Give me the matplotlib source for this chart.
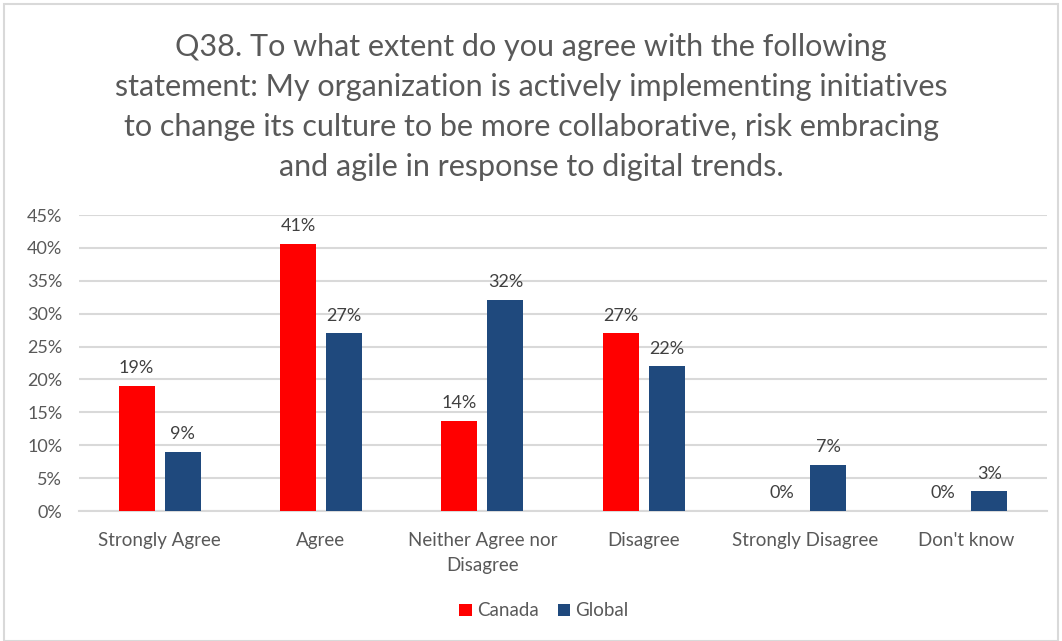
import matplotlib
matplotlib.use("Agg")
import matplotlib.pyplot as plt
from matplotlib.patches import Rectangle
import numpy as np

categories = ["Strongly Agree", "Agree", "Neither Agree nor\nDisagree",
              "Disagree", "Strongly Disagree", "Don't know"]
canada = [19.0, 40.6, 13.7, 27.0, 0.0, 0.0]
global_ = [9.0, 27.0, 32.1, 22.0, 7.0, 3.0]
yticks = [0, 5, 10, 15, 20, 25, 30, 35, 40, 45]
title = ("Q38. To what extent do you agree with the following\n"
         "statement: My organization is actively implementing initiatives\n"
         "to change its culture to be more collaborative, risk embracing\n"
         "and agile in response to digital trends.")

RED = "#ff0000"
BLUE = "#1f497d"
TEXT = "#595959"
LABEL = "#404040"
GRID = "#d9d9d9"

plt.rcParams["font.family"] = ["Lato", "DejaVu Sans"]

W, H = 1062, 641
fig = plt.figure(figsize=(W / 100, H / 100), dpi=100)
fig.patch.set_facecolor("white")
fig.add_artist(Rectangle((4 / W, 0), 1 - 8 / W, 1 - 4 / H, transform=fig.transFigure,
                         fill=False, edgecolor="#d9d9d9", linewidth=1.5))

ax = fig.add_axes([79 / W, 1 - 511 / H, (1047 - 79) / W, (511 - 215) / H])
x = np.arange(len(categories))
bw = 0.224
off = 0.143
b1 = ax.bar(x - off, canada, bw, color=RED, label="Canada", zorder=3)
b2 = ax.bar(x + off, global_, bw, color=BLUE, label="Global", zorder=3)

for bars, vals in ((b1, canada), (b2, global_)):
    for rect, v in zip(bars, vals):
        ax.annotate(f"{round(v):d}%", (rect.get_x() + rect.get_width() / 2, v),
                    xytext=(0, 7), textcoords="offset points",
                    ha="center", va="bottom", fontsize=13, color=LABEL)

ax.set_xlim(-0.5, len(categories) - 0.5)
ax.set_ylim(0, 45)
ax.set_yticks(yticks)
ax.set_yticklabels([f"{t}%" for t in yticks])
ax.set_xticks(x)
ax.set_xticklabels(categories, linespacing=1.55)
ax.tick_params(axis="both", length=0, labelsize=13, colors=TEXT)
ax.tick_params(axis="x", labelsize=13.5, pad=15)
ax.tick_params(axis="y", pad=12)
ax.yaxis.grid(True, color=GRID, linewidth=1.5, zorder=0)
ax.set_axisbelow(True)
for s in ("top", "right", "left"):
    ax.spines[s].set_visible(False)
ax.spines["bottom"].set_color(GRID)
ax.spines["bottom"].set_linewidth(1.5)

fig.text(0.5, 1 - 107 / H, title, ha="center", va="center", fontsize=22,
         color=TEXT, linespacing=1.52)

fig.legend(handles=[b1, b2], labels=["Canada", "Global"], loc="center",
           bbox_to_anchor=(544 / W, 1 - 611 / H), ncol=2, frameon=False,
           fontsize=13.5, labelcolor=TEXT, handlelength=0.65, handleheight=0.65,
           columnspacing=1.0, handletextpad=0.3)

fig.savefig("out.png", dpi=100, facecolor="white")
